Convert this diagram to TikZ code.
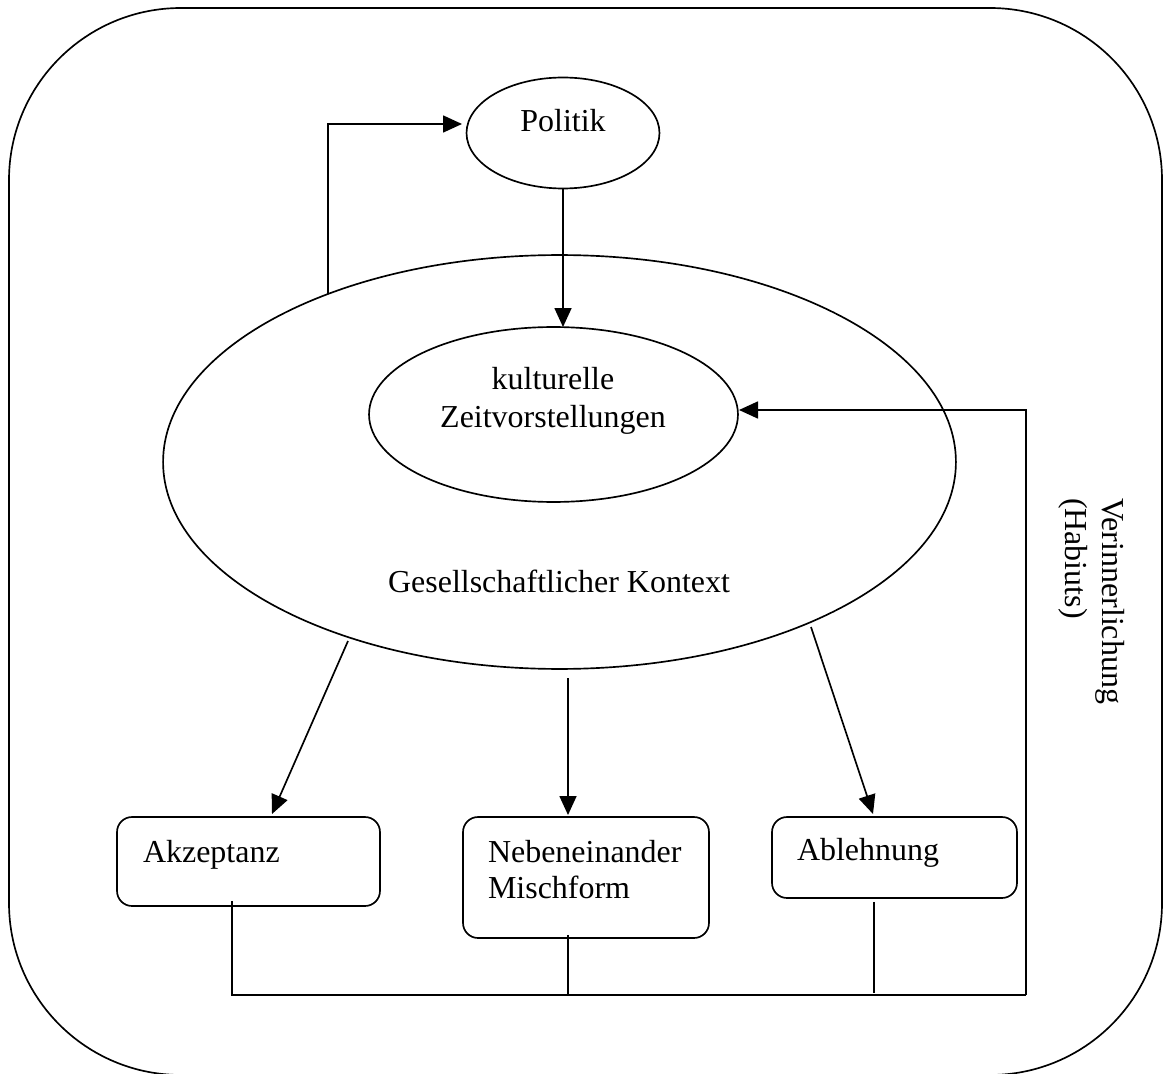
\documentclass[tikz,border=0pt]{standalone}
\usepackage{fontspec}
\setmainfont{Liberation Serif}
\usetikzlibrary{shapes.geometric,arrows.meta}
\begin{document}
\begin{tikzpicture}[x=0.02cm,y=-0.02cm,
  line width=0.95pt,
  every node/.style={font=\fontsize{18.2}{21.5}\selectfont, inner sep=0pt, outer sep=0pt},
  arr/.style={-{Triangle[length=0.38cm,width=0.34cm]}},
  oval/.style={draw, ellipse, inner sep=0pt, outer sep=0pt},
  box/.style={draw, rectangle, rounded corners=0.3cm},
  lbl/.style={anchor=base},
  lblw/.style={anchor=base west},
  vlbl/.style={anchor=base west, rotate=-90}]
\useasboundingbox (0,0) rectangle (1163,1074);
% outer frame
\draw[rounded corners=3.44cm] (9,8) rectangle (1162,1075);

% ellipses
\node[oval, minimum width=3.86cm, minimum height=2.22cm] (pol) at (563,133) {};
\node[oval, minimum width=15.86cm, minimum height=8.28cm] (ctx) at (559.5,462) {};
\node[oval, minimum width=7.38cm, minimum height=3.5cm] (kult) at (553.5,414.5) {};

% ellipse texts
\node[lbl] (tpol) at (563,132) {Politik};
\node[lbl] (tk1) at (553,390) {kulturelle};
\node[lbl] (tk2) at (553,428) {Zeitvorstellungen};
\node[lbl] (tctx) at (559,592) {Gesellschaftlicher Kontext};

% boxes
\node[box, minimum width=5.26cm, minimum height=1.78cm] (akz) at (248.5,861.5) {};
\node[box, minimum width=4.92cm, minimum height=2.42cm] (neb) at (586,877.5) {};
\node[box, minimum width=4.9cm, minimum height=1.62cm] (abl) at (894.5,857.5) {};

\node[lblw] (takz) at (143,862) {Akzeptanz};
\node[lblw] (tneb1) at (488,862) {Nebeneinander};
\node[lblw] (tneb2) at (488,898) {Mischform};
\node[lblw] (tabl) at (797,860) {Ablehnung};

% rotated label
\node[vlbl] (tv1) at (1102,498) {Verinnerlichung};
\node[vlbl] (tv2) at (1065,498) {(Habiuts)};

% coordinates for free ends
\coordinate (polin) at (462,124);
\coordinate (kin) at (739,410);
\coordinate (fb) at (1026,995);
\coordinate (a1) at (348,641);
\coordinate (a2) at (568,678);
\coordinate (a3) at (811,627);

% connectors
\draw[arr] (ctx.144) |- (polin);
\draw[arr] (pol.south) -- (pol.south |- kult.north);
\draw[arr] (a1) -- ([xshift=0.47cm,yshift=0.06cm]akz.north);
\draw[arr] (a2) -- ([yshift=0.04cm]a2 |- neb.north);
\draw[arr] (a3) -- ([xshift=-0.43cm,yshift=0.06cm]abl.north);

\draw ([xshift=-0.33cm,yshift=0.1cm]akz.south) |- (fb);
\draw ([xshift=-0.36cm,yshift=0.06cm]neb.south) -- ([xshift=-0.36cm]neb.south |- fb);
\draw ([xshift=-0.41cm,yshift=-0.08cm]abl.south) -- ([xshift=-0.41cm,yshift=0.04cm]abl.south |- fb);
\draw[arr] (fb) |- (kin);
\end{tikzpicture}
\end{document}
